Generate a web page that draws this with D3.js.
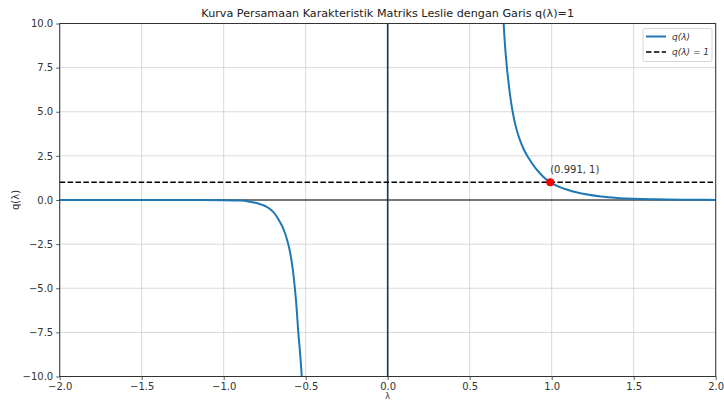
<!DOCTYPE html>
<html><head><meta charset="utf-8">
<script src="https://cdn.jsdelivr.net/npm/d3@7"></script>
<style>body{margin:0;background:#fff}svg{display:block}text{font-family:"DejaVu Sans",sans-serif}</style>
</head><body><svg id="c" width="724" height="401"></svg>
<script>
// data
const lambdaNeg = [-2.0,-1.8,-1.6,-1.4,-1.2,-1.0,-0.9,-0.85,-0.8,-0.76,-0.74,-0.72,-0.70,-0.68,-0.66,-0.64,-0.62,-0.60,-0.58,-0.56,-0.545,-0.535,-0.524,-0.51];
const qNeg      = [0.0,0.0,0.0,0.0,-0.002,-0.008,-0.035,-0.08,-0.17,-0.29,-0.37,-0.50,-0.66,-0.89,-1.2,-1.55,-2.05,-2.75,-3.85,-5.6,-7.5,-8.6,-10.0,-12.5];
const lambdaPos = [0.68,0.70,0.72,0.74,0.76,0.78,0.80,0.83,0.86,0.90,0.95,0.991,1.05,1.10,1.15,1.20,1.30,1.40,1.50,1.60,1.70,1.80,1.90,2.00];
const qPos      = [16.0,11.2,8.2,6.4,5.1,4.2,3.56,2.86,2.36,1.82,1.30,1.0,0.73,0.57,0.44,0.34,0.20,0.12,0.074,0.045,0.027,0.017,0.010,0.006];
const xTicks = [-2.0,-1.5,-1.0,-0.5,0.0,0.5,1.0,1.5,2.0];
const yTicks = [-10.0,-7.5,-5.0,-2.5,0.0,2.5,5.0,7.5,10.0];
const rootPoint = {x:0.991, y:1, label:"(0.991, 1)"};
const titleText = "Kurva Persamaan Karakteristik Matriks Leslie dengan Garis q(λ)=1";
const legendLabels = ["q(λ)", "q(λ) = 1"];

const svg = d3.select("#c");
const m = {l:59.7, r:715.7, t:23.5, b:376.5};
const x = d3.scaleLinear().domain([-2,2]).range([m.l,m.r]);
const y = d3.scaleLinear().domain([-10,10]).range([m.b,m.t]);

svg.append("defs").append("clipPath").attr("id","clip")
  .append("rect").attr("x",m.l).attr("y",m.t).attr("width",m.r-m.l).attr("height",m.b-m.t);

// grid
const g = svg.append("g");
g.selectAll(".gx").data(xTicks).join("line")
  .attr("x1",d=>x(d)).attr("x2",d=>x(d)).attr("y1",m.t).attr("y2",m.b)
  .attr("stroke","#b0b0b0").attr("stroke-opacity",0.6).attr("stroke-width",0.8);
g.selectAll(".gy").data(yTicks).join("line")
  .attr("y1",d=>y(d)).attr("y2",d=>y(d)).attr("x1",m.l).attr("x2",m.r)
  .attr("stroke","#b0b0b0").attr("stroke-opacity",0.6).attr("stroke-width",0.8);

const plot = svg.append("g").attr("clip-path","url(#clip)");
// reference lines
plot.append("line").attr("x1",m.l).attr("x2",m.r).attr("y1",y(0)).attr("y2",y(0))
  .attr("stroke","#000").attr("stroke-width",1);
plot.append("line").attr("x1",x(0)).attr("x2",x(0)).attr("y1",m.t).attr("y2",m.b)
  .attr("stroke","#1c3550").attr("stroke-width",1.6);
plot.append("line").attr("x1",m.l).attr("x2",m.r).attr("y1",y(1)).attr("y2",y(1))
  .attr("stroke","#000").attr("stroke-width",1.5).attr("stroke-dasharray","5.5,2.4");

const line = d3.line().x(d=>x(d[0])).y(d=>y(d[1])).curve(d3.curveCatmullRom.alpha(0.5));
plot.append("path").datum(d3.zip(lambdaNeg,qNeg)).attr("d",line)
  .attr("fill","none").attr("stroke","#1f77b4").attr("stroke-width",2);
plot.append("path").datum(d3.zip(lambdaPos,qPos)).attr("d",line)
  .attr("fill","none").attr("stroke","#1f77b4").attr("stroke-width",2);

plot.append("circle").attr("cx",x(rootPoint.x)).attr("cy",y(rootPoint.y)).attr("r",4).attr("fill","red");
svg.append("text").attr("x",x(rootPoint.x)).attr("y",y(rootPoint.y)-9)
  .attr("font-size",10).attr("fill","#333").text(rootPoint.label);

// axes
const fmt = d=>d<0?"\u2212"+Math.abs(d).toFixed(1):d.toFixed(1);
const xa = svg.append("g").attr("transform",`translate(0,${m.b})`)
  .call(d3.axisBottom(x).tickValues(xTicks).tickFormat(fmt).tickSize(3.5).tickPadding(3));
const ya = svg.append("g").attr("transform",`translate(${m.l},0)`)
  .call(d3.axisLeft(y).tickValues(yTicks).tickFormat(fmt).tickSize(3.5).tickPadding(3));
[xa,ya].forEach(a=>{
  a.select(".domain").remove();
  a.selectAll("text").attr("font-size",10).attr("fill","#333").style("font-family","DejaVu Sans");
  a.selectAll("line").attr("stroke","#333").attr("stroke-width",0.8);
});

svg.append("rect").attr("x",m.l).attr("y",m.t).attr("width",m.r-m.l).attr("height",m.b-m.t)
  .attr("fill","none").attr("stroke","#333").attr("stroke-width",1);

// title & labels
svg.append("text").attr("x",(m.l+m.r)/2).attr("y",17).attr("text-anchor","middle")
  .attr("font-size",11.2).attr("fill","#222").text(titleText);
svg.append("text").attr("x",x(0)).attr("y",399).attr("text-anchor","middle")
  .attr("font-size",8).attr("fill","#333").text("λ");
svg.append("text").attr("transform",`translate(19,${(m.t+m.b)/2}) rotate(-90)`).attr("text-anchor","middle")
  .attr("font-size",10).attr("fill","#333").text("q(λ)");

// legend
const lg = svg.append("g");
lg.append("rect").attr("x",643).attr("y",28.5).attr("width",69).attr("height",33).attr("rx",2)
  .attr("fill","#fff").attr("fill-opacity",0.8).attr("stroke","#ccc").attr("stroke-width",0.8);
lg.append("line").attr("x1",646).attr("x2",666).attr("y1",36.5).attr("y2",36.5).attr("stroke","#1f77b4").attr("stroke-width",2);
lg.append("line").attr("x1",646).attr("x2",666).attr("y1",52).attr("y2",52).attr("stroke","#000").attr("stroke-width",1.5).attr("stroke-dasharray","5.5,2.4");
lg.append("text").attr("x",672).attr("y",39.5).attr("font-size",9).attr("font-style","italic").attr("fill","#333").text(legendLabels[0]);
lg.append("text").attr("x",672).attr("y",55).attr("font-size",9).attr("font-style","italic").attr("fill","#333").text(legendLabels[1]);
</script></body></html>
